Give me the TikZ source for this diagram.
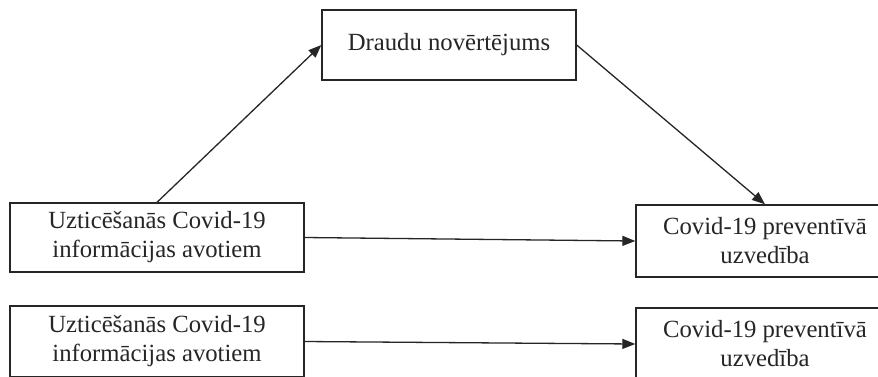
\documentclass[tikz,border=0pt]{standalone}
\usepackage{fontspec}
\setmainfont{Liberation Serif}
\usetikzlibrary{arrows.meta}
\begin{document}
\begin{tikzpicture}[x=1pt,y=-1pt,
  box/.style={draw=black!85, line width=1.4pt, fill=white, inner sep=0pt,
    align=center, text=black!85,
    font=\fontsize{24.7}{29}\selectfont},
  arr/.style={draw=black!85, line width=1.3pt,
    -{Stealth[length=13pt,width=10pt,inset=0pt]}}]
\useasboundingbox (0,0) rectangle (878,376);
\clip (0,0) rectangle (878,376);
\fill[white] (0,0) rectangle (878,376);

% mediator
\node[box, minimum width=254pt, minimum height=70pt] (draudi) at (449,45)
  {Draudu novērtējums};

% mediated model
\node[box, minimum width=294pt, minimum height=69pt] (uzt1) at (157,237.5)
  {Uzticēšanās Covid-19\\informācijas avotiem};
\node[box, minimum width=258pt, minimum height=72pt] (prev1) at (765,241)
  {Covid-19 preventīvā\\uzvedība};

% direct model
\node[box, minimum width=294pt, minimum height=71pt] (uzt2) at (157,341.5)
  {Uzticēšanās Covid-19\\informācijas avotiem};
\node[box, minimum width=258pt, minimum height=72pt] (prev2) at (765,344)
  {Covid-19 preventīvā\\uzvedība};

\draw[arr] (uzt1.north) -- (draudi.west);
\draw[arr] (draudi.east) -- (prev1.north);
\draw[arr] (uzt1.east) -- (prev1.west);
\draw[arr] (uzt2.east) -- (prev2.west);
\end{tikzpicture}
\end{document}
